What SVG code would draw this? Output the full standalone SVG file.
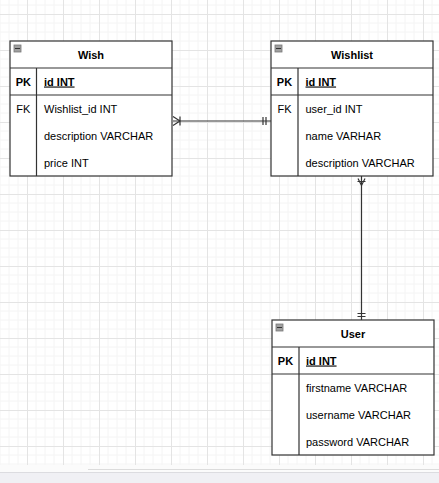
<svg xmlns="http://www.w3.org/2000/svg" width="439" height="483" viewBox="0 0 439 483">
<defs>
<pattern id="grid" patternUnits="userSpaceOnUse" x="27" y="14" width="36" height="36">
<path d="M9 0V36M18 0V36M27 0V36M0 9H36M0 18H36M0 27H36" stroke="#f4f4f4" stroke-width="1" fill="none"/>
<path d="M0.5 0V36M0 0.5H36" stroke="#e4e4e4" stroke-width="1" fill="none"/>
</pattern>
</defs>
<style>
.box{fill:#fff;stroke:#333;stroke-width:1.2}
.ln{stroke:#333;stroke-width:1.2;fill:none}
.t{font-family:"Liberation Sans",Arial,sans-serif;font-size:11px;fill:#000}
.b{font-weight:bold}
.c{text-anchor:middle}
.u{text-decoration:underline}
.icon{fill:#a0a0a0;stroke:#777;stroke-width:0.8}
.conn{stroke:#333;stroke-width:1.2;fill:none}
</style>
<rect width="439" height="483" fill="#fff"/>
<rect x="0" y="0" width="439" height="465" fill="url(#grid)"/>
<rect x="0" y="465" width="439" height="7" fill="#fbfbfb"/>
<line x1="88" y1="469.5" x2="439" y2="469.5" stroke="#dcdcdc" stroke-width="1"/>
<rect x="0" y="472" width="439" height="11" fill="#f0f0f4"/>
<line x1="0" y1="472.5" x2="439" y2="472.5" stroke="#dcdce0" stroke-width="1"/>

<g id="connectors">
<g id="wish-wishlist">
<path class="conn" d="M173 121H271"/>
<path class="conn" d="M173 116.5L180 121L173 125.5M180 116.5V125.5"/>
<path class="conn" d="M263 117V125M266 117V125"/>
</g>
<g id="wishlist-user">
<path class="conn" d="M361.5 176V320"/>
<path class="conn" d="M358 178.5L361.5 185.5L365 178.5M357.5 181.5H365.5"/>
<path class="conn" d="M357.5 313.5H365.5M357.5 316.5H365.5"/>
</g>
</g>

<g id="wish">
<rect class="box" x="10" y="41" width="162" height="135"/>
<path class="ln" d="M10 68H172M10 95H172M36.5 68V176"/>
<rect class="icon" x="14" y="45" width="7" height="7"/>
<line x1="15" y1="48.5" x2="20" y2="48.5" stroke="#333" stroke-width="1"/>
<text class="t b c" x="91" y="58.5">Wish</text>
<text class="t b c" x="23.3" y="85.5">PK</text>
<text class="t b u" x="44" y="85.5">id INT</text>
<text class="t c" x="23.3" y="112.5">FK</text>
<text class="t" x="44" y="112.5">Wishlist_id INT</text>
<text class="t" x="44" y="139.5">description VARCHAR</text>
<text class="t" x="44" y="166.5">price INT</text>
</g>

<g id="wishlist">
<rect class="box" x="271" y="41" width="162" height="135"/>
<path class="ln" d="M271 68H433M271 95H433M298 68V176"/>
<rect class="icon" x="275" y="45" width="7" height="7"/>
<line x1="276" y1="48.5" x2="281" y2="48.5" stroke="#333" stroke-width="1"/>
<text class="t b c" x="352" y="58.5">Wishlist</text>
<text class="t b c" x="284.5" y="85.5">PK</text>
<text class="t b u" x="305.5" y="85.5">id INT</text>
<text class="t c" x="284.5" y="112.5">FK</text>
<text class="t" x="305.5" y="112.5">user_id INT</text>
<text class="t" x="305.5" y="139.5">name VARHAR</text>
<text class="t" x="305.5" y="166.5">description VARCHAR</text>
</g>

<g id="user">
<rect class="box" x="272" y="320" width="162" height="135"/>
<path class="ln" d="M272 347H434M272 374H434M299 347V455"/>
<rect class="icon" x="276" y="324" width="7" height="7"/>
<line x1="277" y1="327.5" x2="282" y2="327.5" stroke="#333" stroke-width="1"/>
<text class="t b c" x="353" y="337.5">User</text>
<text class="t b c" x="285.5" y="364.5">PK</text>
<text class="t b u" x="306" y="364.5">id INT</text>
<text class="t" x="306" y="391.5">firstname VARCHAR</text>
<text class="t" x="306" y="418.5">username VARCHAR</text>
<text class="t" x="306" y="445.5">password VARCHAR</text>
</g>
</svg>
